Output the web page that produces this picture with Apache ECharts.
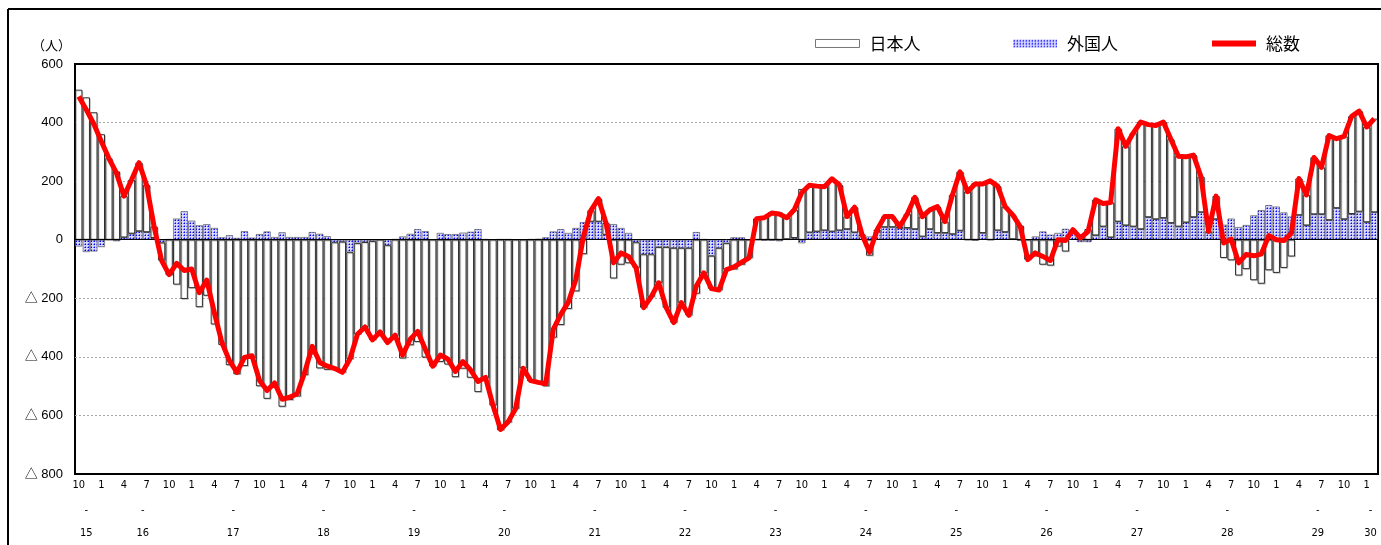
<!DOCTYPE html>
<html>
<head>
<meta charset="utf-8">
<script src="https://cdn.jsdelivr.net/npm/echarts@6/dist/echarts.min.js"></script>
<style>
  html, body { margin: 0; padding: 0; background: #fff; }
  #chart { width: 1381px; height: 545px; }
</style>
</head>
<body>
<div id="chart"></div>
<script>
// Monthly net migration, Oct H15 – Feb H30 (persons)
const startYear = 15;
const startMonth = 10;
const monthCount = 173;

// 外国人
const foreign = [
  -23, -42, -40, -25, 0, -5, 8, 21, 29, 26,
  6, -10, 2, 72, 97, 65, 49, 53, 40, 8,
  15, 6, 29, 7, 19, 28, 9, 25, 9, 9,
  9, 26, 20, 12, -9, -7, -43, -12, -8, -5,
  0, -19, 2, 11, 20, 36, 29, 0, 23, 19,
  19, 24, 27, 36, 2, 0, 2, 2, 0, 0,
  2, 3, 8, 28, 36, 23, 40, 60, 62, 62,
  17, 53, 40, 23, -9, -50, -50, -25, -25, -28,
  -28, -28, 26, 2, -55, -28, -12, 8, 8, 0,
  0, -3, -3, -5, 2, 6, -12, 25, 28, 32,
  28, 32, 36, 25, 15, 11, 28, 43, 43, 40,
  40, 36, 11, 36, 23, 23, 19, 31, 0, -3,
  23, 0, 32, 26, 2, -3, 0, 11, 28, 17,
  23, 37, 23, -8, -8, 15, 45, 8, 62, 49,
  45, 36, 77, 70, 74, 57, 45, 59, 77, 94,
  25, 70, 51, 72, 43, 50, 83, 101, 118, 113,
  93, 79, 84, 49, 87, 87, 67, 108, 70, 88,
  96, 60, 94
];

// 日本人
const japanese = [
  512, 486, 435, 360, 278, 233, 141, 183, 234, 161,
  39, -61, -121, -153, -202, -165, -230, -191, -289, -359,
  -428, -459, -431, -403, -500, -543, -498, -570, -547, -535,
  -462, -390, -439, -444, -431, -446, -364, -311, -290, -337,
  -315, -332, -328, -405, -360, -349, -402, -432, -417, -426,
  -469, -440, -471, -520, -472, -566, -650, -624, -577, -439,
  -483, -490, -500, -334, -291, -236, -176, -49, 38, 78,
  40, -132, -85, -80, -87, -182, -145, -122, -207, -255,
  -187, -230, -184, -115, -112, -144, -90, -101, -85, -62,
  72, 78, 94, 93, 73, 96, 173, 161, 155, 149,
  180, 155, 43, 86, 2, -54, 6, 36, 36, 5,
  48, 109, 68, 66, 90, 39, 134, 201, 164, 193,
  167, 201, 151, 87, 83, 48, -68, -56, -85, -88,
  -23, -40, 11, 14, 36, 121, 79, 119, 317, 270,
  319, 366, 316, 320, 328, 286, 240, 224, 212, 121,
  3, 79, -62, -70, -122, -100, -138, -150, -104, -113,
  -96, -57, 125, 104, 194, 160, 289, 237, 283, 333,
  343, 325, 319
];

// 総数
const total = [
  489, 444, 395, 335, 278, 228, 149, 204, 263, 187,
  45, -71, -119, -81, -105, -100, -181, -138, -249, -351,
  -413, -453, -402, -396, -481, -515, -489, -545, -538, -526,
  -453, -364, -419, -432, -440, -453, -407, -323, -298, -342,
  -315, -351, -326, -394, -340, -313, -373, -432, -394, -407,
  -450, -416, -444, -484, -470, -566, -648, -622, -577, -439,
  -481, -487, -492, -306, -255, -213, -136, 11, 100, 140,
  57, -79, -45, -57, -96, -232, -195, -147, -232, -283,
  -215, -258, -158, -113, -167, -172, -102, -93, -77, -62,
  72, 75, 91, 88, 75, 102, 161, 186, 183, 181,
  208, 187, 79, 111, 17, -43, 34, 79, 79, 45,
  88, 145, 79, 102, 113, 62, 153, 232, 164, 190,
  190, 201, 183, 113, 85, 45, -68, -45, -57, -71,
  0, -3, 34, 6, 28, 136, 124, 127, 379, 319,
  364, 402, 393, 390, 402, 343, 285, 283, 289, 215,
  28, 149, -11, 2, -79, -50, -55, -49, 14, 0,
  -3, 22, 209, 153, 281, 247, 356, 345, 353, 421,
  439, 385, 413
];

// Category labels "year.month" (Heisei years)
const categories = [];
for (let i = 0; i < monthCount; i++) {
  const k = startMonth - 1 + i;
  categories.push((startYear + Math.floor(k / 12)) + '.' + ((k % 12) + 1));
}

// Year label sits at the middle of that year's months
const yearCenters = {};
(function () {
  const first = {}, last = {};
  categories.forEach((c, i) => {
    const y = c.split('.')[0];
    if (!(y in first)) first[y] = i;
    last[y] = i;
  });
  Object.keys(first).forEach(y => {
    yearCenters[((first[y] + last[y]) / 2).toFixed(1)] = y;
  });
})();

// Dotted blue fill for the foreign-resident bars
function dotPattern() {
  const c = document.createElement('canvas');
  c.width = 3; c.height = 3;
  const g = c.getContext('2d');
  g.fillStyle = '#d6d6ff';
  g.fillRect(0, 0, 3, 3);
  g.fillStyle = '#0000ff';
  g.fillRect(1, 1, 1, 1);
  g.fillStyle = '#7070ff';
  g.fillRect(0, 1, 1, 1);
  g.fillRect(1, 0, 1, 1);
  return c;
}

const jpFont = "'Noto Sans CJK JP', sans-serif";
const numFont = "'Liberation Sans', 'Noto Sans CJK JP', sans-serif";
const narrowFont = "'Liberation Sans Narrow', 'DejaVu Sans Condensed', 'Liberation Sans', sans-serif";

const chart = echarts.init(document.getElementById('chart'), null, { renderer: 'canvas' });

const legendText = { fontSize: 17, color: '#000', fontFamily: jpFont, padding: [0, 0, 0, 5] };

chart.setOption({
  animation: false,
  backgroundColor: '#fff',
  title: {
    text: '（人）',
    left: 27, top: 34,
    textStyle: { fontSize: 13, fontWeight: 'normal', color: '#000', fontFamily: jpFont }
  },
  legend: [
    { data: ['日本人'], left: 815, top: 35, padding: 0, itemWidth: 44, itemHeight: 8,
      selectedMode: false, textStyle: legendText, icon: 'rect',
      itemStyle: { borderColor: '#777', borderWidth: 1, shadowColor: 'transparent' } },
    { data: ['外国人'], left: 1013, top: 35, padding: 0, itemWidth: 44, itemHeight: 8,
      selectedMode: false, textStyle: legendText, icon: 'rect',
      itemStyle: { borderWidth: 0 } },
    { data: ['総数'], left: 1212, top: 35, padding: 0, itemWidth: 44, itemHeight: 6,
      selectedMode: false, textStyle: legendText, icon: 'rect' }
  ],
  graphic: [
    { type: 'line', shape: { x1: 8, y1: 9, x2: 1381, y2: 9 }, style: { stroke: '#000', lineWidth: 2 } },
    { type: 'line', shape: { x1: 8, y1: 9, x2: 8, y2: 545 }, style: { stroke: '#000', lineWidth: 2 } }
  ],
  grid: {
    left: 75, top: 64, width: 1303, height: 412,
    show: true, borderColor: '#000', borderWidth: 2, backgroundColor: 'transparent'
  },
  xAxis: [
    {
      type: 'category',
      data: categories,
      boundaryGap: true,
      axisLine: { show: false },
      axisTick: { show: false },
      axisLabel: {
        interval: 2,
        formatter: v => v.split('.')[1],
        fontSize: 11, color: '#000', margin: 6, fontFamily: narrowFont
      }
    },
    {
      type: 'value',
      position: 'bottom',
      min: -0.5, max: monthCount - 0.5, interval: 0.5,
      axisLine: { show: false },
      axisTick: { show: false },
      splitLine: { show: false },
      axisLabel: {
        formatter: v => {
          const y = yearCenters[v.toFixed(1)];
          return y ? '-\n' + y : '';
        },
        lineHeight: 23, fontSize: 11, color: '#000', margin: 25, fontFamily: narrowFont
      }
    }
  ],
  yAxis: {
    type: 'value',
    min: -800, max: 600, interval: 200,
    axisLine: { show: false },
    axisTick: { show: false },
    axisLabel: {
      formatter: v => (v < 0 ? '△ ' + (-v) : String(v)),
      fontSize: 13, color: '#000', margin: 12, fontFamily: numFont
    },
    splitLine: {
      showMinLine: false, showMaxLine: false,
      lineStyle: { color: '#aaa', type: [2, 2], width: 1 }
    }
  },
  series: [
    {
      name: '外国人',
      type: 'bar',
      stack: 'net',
      data: foreign,
      barCategoryGap: '6%',
      itemStyle: { color: { image: dotPattern(), repeat: 'repeat' }, borderColor: '#444', borderWidth: 0.6 }
    },
    {
      name: '日本人',
      type: 'bar',
      stack: 'net',
      data: japanese,
      barCategoryGap: '6%',
      itemStyle: {
        color: '#fff', borderColor: '#000', borderWidth: 0.8,
        shadowColor: 'rgba(0,0,0,0.18)', shadowOffsetX: 1, shadowOffsetY: 1, shadowBlur: 0
      },
      markLine: {
        silent: true, symbol: 'none', label: { show: false },
        lineStyle: { color: '#000', type: 'solid', width: 1 },
        data: [{ yAxis: 0 }]
      }
    },
    {
      name: '総数',
      type: 'line',
      data: total,
      symbol: 'none',
      z: 5,
      itemStyle: { color: '#ff0000' },
      lineStyle: { color: '#ff0000', width: 5, join: 'round' }
    }
  ]
});
</script>
</body>
</html>
